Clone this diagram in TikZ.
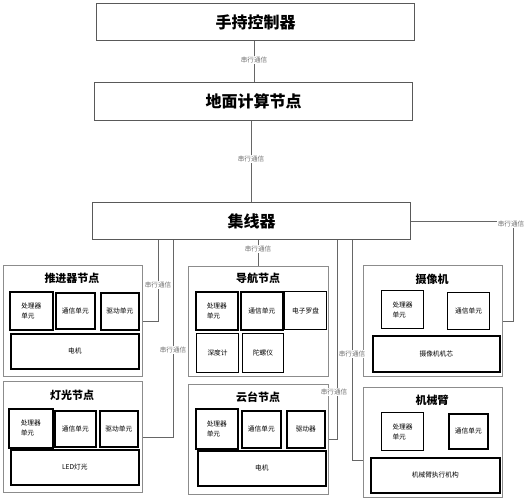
\documentclass[tikz,border=0pt]{standalone}
\usepackage{fontspec}
\setmainfont{Noto Sans CJK SC}
\begin{document}
\begin{tikzpicture}[x=1pt,y=-1pt,
  topbox/.style={draw=black!65,line width=1.1pt,anchor=north west,inner sep=0pt,font=\fontsize{16}{18}\selectfont\bfseries},
  grp/.style={draw=black!45,line width=0.9pt,anchor=north west,inner sep=0pt},
  ibox/.style={draw=black,line width=1.6pt,anchor=north west,inner sep=0pt,font=\fontsize{6.7}{10}\selectfont,align=center},
  tbox/.style={ibox,line width=1.1pt},
  gtitle/.style={font=\fontsize{11}{13}\selectfont\bfseries,inner sep=0pt},
  link/.style={draw=black!60,line width=0.8pt},
  lab/.style={fill=white,inner sep=0.5pt,text=black!55,font=\fontsize{6.6}{8}\selectfont}]
\useasboundingbox (0,0) rectangle (528,500);

% top column
\node[topbox,minimum width=318pt,minimum height=37pt] (hand) at (96,3) {手持控制器};
\node[topbox,minimum width=318pt,minimum height=38pt] (ground) at (94,82) {地面计算节点};
\node[topbox,minimum width=318pt,minimum height=37pt] (hub) at (92,202) {集线器};

% groups
\node[grp,minimum width=139pt,minimum height=111pt] (tui) at (3,265) {};
\node[grp,minimum width=139pt,minimum height=111pt] (deng) at (3,381) {};
\node[grp,minimum width=140pt,minimum height=110pt] (nav) at (188,266) {};
\node[grp,minimum width=140pt,minimum height=110pt] (yt) at (188,384) {};
\node[grp,minimum width=139pt,minimum height=111pt] (cam) at (363,265) {};
\node[grp,minimum width=139pt,minimum height=110pt] (arm) at (363,387) {};

% 推进器节点
\node[gtitle] (tuiT) at (72,278) {推进器节点};
\node[ibox,minimum width=43pt,minimum height=38pt,align=left] (tuiP) at (9,291) {处理器\\单元};
\node[ibox,minimum width=39pt,minimum height=36pt] (tuiC) at (55,292) {通信单元};
\node[ibox,minimum width=38pt,minimum height=37pt] (tuiD) at (100,292) {驱动单元};
\node[ibox,minimum width=128pt,minimum height=35pt] (tuiM) at (10,333) {电机};

% 灯光节点
\node[gtitle] (dengT) at (72,395) {灯光节点};
\node[ibox,minimum width=44pt,minimum height=39pt,align=left] (dengP) at (8,408) {处理器\\单元};
\node[ibox,minimum width=41pt,minimum height=36pt] (dengC) at (54,410) {通信单元};
\node[ibox,minimum width=38pt,minimum height=36pt] (dengD) at (99,410) {驱动单元};
\node[ibox,minimum width=128pt,minimum height=35pt] (dengL) at (10,449) {LED灯光};

% 导航节点
\node[gtitle] (navT) at (258,278) {导航节点};
\node[ibox,minimum width=42pt,minimum height=38pt,align=left] (navP) at (195,291) {处理器\\单元};
\node[ibox,minimum width=42pt,minimum height=38pt] (navC) at (240,291) {通信单元};
\node[tbox,minimum width=42pt,minimum height=38pt] (navE) at (284,291) {电子罗盘};
\node[tbox,minimum width=42pt,minimum height=39pt] (navS) at (196,333) {深度计};
\node[tbox,minimum width=41pt,minimum height=39pt] (navG) at (242,333) {陀螺仪};

% 云台节点
\node[gtitle] (ytT) at (258,397) {云台节点};
\node[ibox,minimum width=42pt,minimum height=40pt,align=left] (ytP) at (195,408) {处理器\\单元};
\node[ibox,minimum width=39pt,minimum height=37pt] (ytC) at (241,410) {通信单元};
\node[ibox,minimum width=38pt,minimum height=37pt] (ytD) at (286,410) {驱动器};
\node[ibox,minimum width=128pt,minimum height=35pt] (ytM) at (197,450) {电机};

% 摄像机
\node[gtitle] (camT) at (432,279) {摄像机};
\node[tbox,minimum width=42pt,minimum height=38pt,align=left] (camP) at (381,290) {处理器\\单元};
\node[tbox,minimum width=42pt,minimum height=37pt] (camC) at (447,292) {通信单元};
\node[ibox,minimum width=127pt,minimum height=36pt] (camM) at (372,335) {摄像机机芯};

% 机械臂
\node[gtitle] (armT) at (432,400) {机械臂};
\node[tbox,minimum width=42pt,minimum height=38pt,align=left] (armP) at (381,412) {处理器\\单元};
\node[ibox,minimum width=39pt,minimum height=35pt] (armC) at (448,413) {通信单元};
\node[ibox,minimum width=129pt,minimum height=35pt] (armM) at (370,457) {机械臂执行机构};

% connectors
\draw[link] ([xshift=-1pt]hand.south) -- ([xshift=-1pt]hand.south |- ground.north);
\draw[link] (ground.south -| hub.north) -- (hub.north);
\draw[link] (nav.north) -- (nav.north |- hub.south);
\draw[link] (tui.east) -| ([xshift=66pt]hub.south west);
\draw[link] (deng.east) -| ([xshift=81pt]hub.south west);
\draw[link] (yt.east) -| ([xshift=245pt]hub.south west);
\draw[link] ([yshift=-18pt]arm.west) -| ([xshift=260pt]hub.south west);
\draw[link] (hub.east) -| ([xshift=10pt]cam.east) -- (cam.east);

% labels
\node[lab] (l1) at (254,60) {串行通信};
\node[lab] (l2) at (251,159) {串行通信};
\node[lab] (l3) at (258,249) {串行通信};
\node[lab] (l4) at (158,285) {串行通信};
\node[lab] (l5) at (173,350) {串行通信};
\node[lab] (l6) at (334,392) {串行通信};
\node[lab] (l7) at (352,354) {串行通信};
\node[lab] (l8) at (511,224) {串行通信};
\end{tikzpicture}
\end{document}
